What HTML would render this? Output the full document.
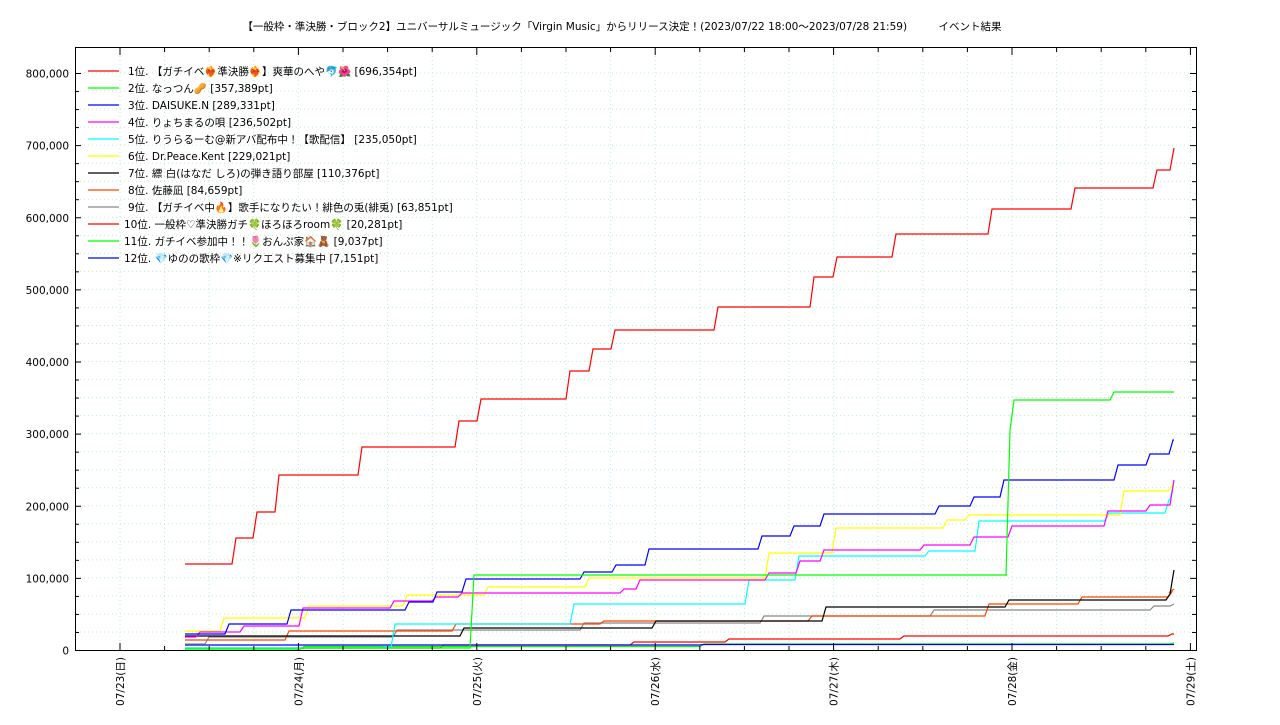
<!DOCTYPE html>
<html><head><meta charset="utf-8"><style>
body{margin:0;background:#fff}
svg text{font-family:"DejaVu Sans","Noto Sans CJK JP",sans-serif;font-size:10.5px;fill:#000}
svg text.t{font-size:10.5px}
</style></head><body>
<svg id="s" width="1280" height="720" xmlns="http://www.w3.org/2000/svg">
<rect width="1280" height="720" fill="#fff"/>
<text class="t" x="622" y="30" text-anchor="middle">【一般枠・準決勝・ブロック2】ユニバーサルミュージック「Virgin Music」からリリース決定！(2023/07/22 18:00～2023/07/28 21:59)　　　イベント結果</text>
<g id="grid"></g>
<g id="series" fill="none" stroke-width="1.2"></g>
<rect x="75.5" y="47.5" width="1121" height="603" fill="none" stroke="#000"/>
<g id="ticks" stroke="#000"></g>
<g id="labels"></g>
<g id="legend"></g>
</svg>
<script>
const NS="http://www.w3.org/2000/svg";
function el(p,t,a,txt){const e=document.createElementNS(NS,t);for(const k in a)e.setAttribute(k,a[k]);if(txt!==undefined)e.textContent=txt;document.getElementById(p).appendChild(e);return e;}
const Y=v=>650-v*577/800000;
for(let v=25000;v<800000+1;v+=25000){const y=Y(v);el('grid','line',{x1:76,x2:1196,y1:y,y2:y,stroke:'#b8f0c8','stroke-dasharray':'1,3'});}
for(let i=0;i<26;i++){const x=120+i*44.6;if(x>1195)break;el('grid','line',{x1:x,x2:x,y1:48,y2:650,stroke:'#b8f0c8','stroke-dasharray':'1,3'});}
for(let v=0;v<=800000;v+=25000){const y=Y(v)+0.5;const maj=v%100000==0;el('ticks','line',{x1:75,x2:maj?81:79,y1:y,y2:y});el('ticks','line',{x1:1196,x2:maj?1190:1192,y1:y,y2:y});
if(maj)el('labels','text',{x:69,y:y+4,'text-anchor':'end'},v.toLocaleString('en-US'));}
const days=['07/23(日)','07/24(月)','07/25(火)','07/26(水)','07/27(木)','07/28(金)','07/29(土)'];
for(let i=-1;i<26;i++){const x=120+i*44.6;if(x<76||x>1195)continue;const maj=i%4==0;el('ticks','line',{x1:x,x2:x,y1:650,y2:maj?643:646});el('ticks','line',{x1:x,x2:x,y1:48,y2:maj?55:52});}
days.forEach((d,i)=>{const x=120+i*178.4+4;el('labels','text',{x:x,y:657,'text-anchor':'end',transform:`rotate(-90 ${x} 657)`},d);});
function path(pts,c){let d=`M${pts[0][0]},${pts[0][1]}`;let py=pts[0][1];for(let i=1;i<pts.length;i++){const [x,y]=pts[i];d+=` L${x},${py} L${x+4},${y}`;py=y;}d+=` L1174,${py}`;el('series','path',{d:d,stroke:c});}
path([[185,648],[440,645],[630,642],[725,639],[900,636],[1168,634]],'#ff0000');
path([[185,649],[300,646.5],[700,644],[1170,643]],'#00ff00');
path([[185,645],[700,644.5]],'#0000ff');
path([[185,644],[205,637],[393,630],[580,623],[760,616],[930,610],[1150,606],[1170,604]],'#888888');
path([[185,640],[285,631],[452,624],[600,621],[808,616],[985,604],[1078,597],[1168,592],[1170,589]],'#ff4400');
path([[185,636],[460,628],[652,621],[822,607],[1005,600],[1166,594],[1170,570]],'#000000');
path([[185,648],[380,647],[391,624],[570,604],[745,580],[795,556],[925,551],[975,521],[1105,513],[1165,500],[1170,481]],'#00ffff');
path([[185,631],[220,618],[305,606],[403,595],[484,587],[585,578],[765,553],[832,528],[943,520],[965,515],[1120,491],[1168,486]],'#ffff00');
path([[185,637],[196,632],[240,626],[299,608],[390,601],[432,597],[458,593],[620,589],[636,580],[765,573],[796,561],[820,550],[920,545],[970,537],[1008,526],[1104,511],[1146,505],[1170,480]],'#ff00ff');
path([[185,634],[225,624],[287,610],[405,602],[433,592],[462,579],[580,572],[612,565],[645,549],[758,536],[790,526],[820,514],[935,506],[970,497],[1000,480],[1114,465],[1146,454],[1169,440]],'#0000ff');
path([[185,649],[300,648],[470,575],[1003,575],[1006,430],[1010,400],[1110,392]],'#00ff00');
path([[185,564],[232,538],[253,512],[275,475],[358,447],[455,421],[477,399],[566,371],[589,349],[611,330],[714,307],[810,277],[833,257],[892,234],[988,209],[1071,188],[1153,170],[1170,148]],'#ff0000');
const L=[['1位. 【ガチイベ❤️‍🔥準決勝❤️‍🔥】爽華のへや🐬🌺 [696,354pt]','#ff0000'],['2位. なっつん🥜 [357,389pt]','#00ff00'],['3位. DAISUKE.N [289,331pt]','#0000ff'],['4位. りょちまるの唄 [236,502pt]','#ff00ff'],['5位. りうらるーむ@新アバ配布中！【歌配信】 [235,050pt]','#00ffff'],['6位. Dr.Peace.Kent [229,021pt]','#ffff00'],['7位. 縹 白(はなだ しろ)の弾き語り部屋 [110,376pt]','#000000'],['8位. 佐藤凪 [84,659pt]','#ff4400'],['9位. 【ガチイベ中🔥】歌手になりたい！緋色の兎(緋兎) [63,851pt]','#888888'],['10位. 一般枠♡準決勝ガチ🍀ほろほろroom🍀 [20,281pt]','#ff0000'],['11位. ガチイベ参加中！！🌷おんぷ家🏠🧸 [9,037pt]','#00ff00'],['12位. 💎ゆのの歌枠💎※リクエスト募集中 [7,151pt]','#0000ff']];
L.forEach((l,i)=>{const y=71+i*17;el('legend','line',{x1:88,x2:119,y1:y,y2:y,stroke:l[1],'stroke-width':1.2});el('legend','text',{x:i<9?128:124,y:y+4},l[0]);});
</script>
</body></html>
